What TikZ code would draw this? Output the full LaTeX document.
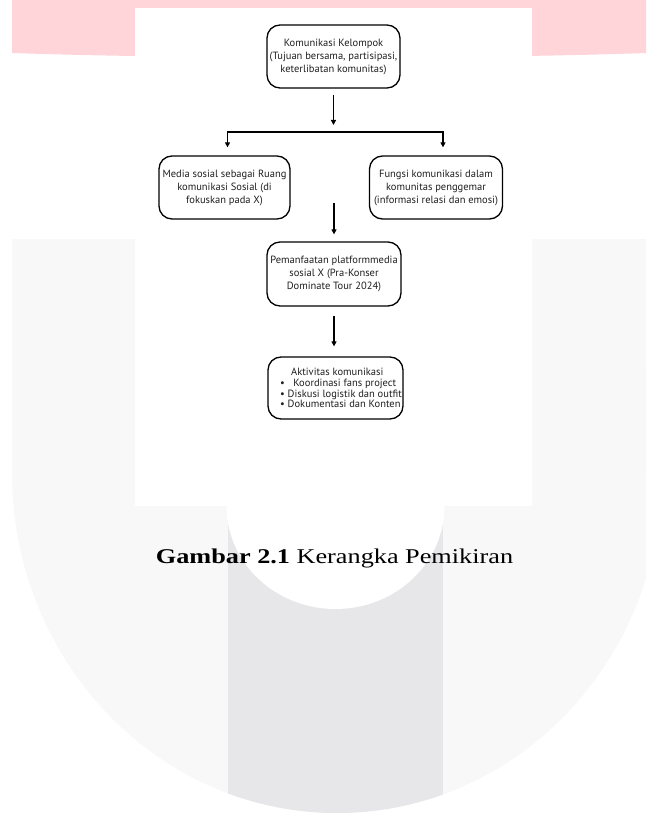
\documentclass[tikz,border=0pt]{standalone}
\usepackage{graphicx}
\usepackage{fontspec}
\setmainfont{Liberation Serif}
\setsansfont{PT Sans}
\usetikzlibrary{arrows.meta, positioning, calc}
\definecolor{bandpink}{HTML}{FFD5DA}
\definecolor{markgrey}{HTML}{F8F8F8}
\definecolor{bargrey}{HTML}{E7E7EA}
\definecolor{boxtext}{HTML}{1F1F1F}
\tikzset{
  framebox/.style={
    draw=black,
    fill=white,
    line width=1.3pt,
    rounded corners=13pt,
    align=center,
    text=boxtext,
    font=\sffamily\fontsize{10.5}{13}\selectfont,
    inner sep=0pt,
    minimum width=133pt,
    minimum height=63pt
  },
  flowarrow/.style={
    -{Triangle[length=5pt, width=5pt]},
    line width=1.3pt,
    color=black
  }
}

\begin{document}
\begin{tikzpicture}[x=1pt, y=-1pt]
  \useasboundingbox (0,0) rectangle (646,813);

  % Watermark
  \fill[bandpink] (12,0) -- (646,0) -- (646,53) .. controls (480,59) and (180,59) .. (12,53) -- cycle;
  \begin{scope}
    \clip (0,239) rectangle (646,813);
    \fill[markgrey] (12,239) rectangle (662,473);
    \fill[markgrey] (337,473) ellipse [x radius=325, y radius=340];
  \end{scope}
  \begin{scope}
    \clip (337,473) ellipse [x radius=325, y radius=340];
    \fill[bargrey] (228,506) rectangle (443,813);
  \end{scope}
  \begin{scope}
    \clip (0,506) rectangle (646,813);
    \fill[white] (335.5,506) ellipse [x radius=109, y radius=103];
  \end{scope}
  \fill[white] (135,8) rectangle (532,506);

  % Boxes
  \node (kelompok) [framebox] at (333.5,56.5) {Komunikasi Kelompok\\(Tujuan bersama, partisipasi,\\keterlibatan komunitas)};

  \node (media) [framebox, minimum width=131pt] at (224.5,187.5) {Media sosial sebagai Ruang\\komunikasi Sosial (di\\fokuskan pada X)};

  \node (fungsi) [framebox] at (436,187.5) {Fungsi komunikasi dalam\\komunitas penggemar\\(informasi relasi dan emosi)};

  \node (platform) [framebox, minimum width=134pt, minimum height=64pt] at (334,274) {Pemanfaatan platformmedia\\sosial X (Pra-Konser\\Dominate Tour 2024)};

  \node (aktivitas) [framebox, minimum width=135pt, minimum height=62pt, align=left, font=\sffamily\fontsize{10.5}{10.7}\selectfont] at (335.5,388) {\hspace*{22pt}Aktivitas komunikasi\\\hspace*{11pt}\textbullet\ \ \ Koordinasi fans project\\\hspace*{11pt}\textbullet\ Diskusi logistik dan outfit\\\hspace*{11pt}\textbullet\ Dokumentasi dan Konten};

  % Caption
  \node (caption) [anchor=base, font=\fontsize{21}{25}\selectfont] at (334.5,563) {\scalebox{1.25}[1]{\textbf{Gambar 2.1} Kerangka Pemikiran}};

  % Connectors
  \coordinate (split) at (335,132);
  \coordinate (gap) at (334,203);
  \draw [flowarrow, shorten <=6pt, shorten >=7pt] (kelompok.south) -- (kelompok.south |- split);
  \draw [flowarrow, shorten >=8pt] (split) -| ([xshift=3pt]media.north);
  \draw [flowarrow, shorten >=8pt] (split) -| ([xshift=7pt]fungsi.north);
  \draw [flowarrow, shorten >=7pt] (gap) -- (gap |- platform.north);
  \draw [flowarrow, shorten <=9pt, shorten >=10pt] (platform.south) -- (platform.south |- aktivitas.north);

\end{tikzpicture}
\end{document}
